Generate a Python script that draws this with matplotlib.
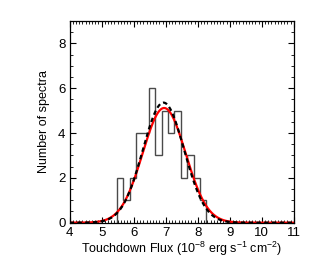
import numpy as np
import matplotlib.pyplot as plt
from matplotlib.ticker import MultipleLocator

# Histograma dos fluxos (largura de bin 0.2)
bordas = [5.47, 5.67, 5.87, 6.07, 6.27, 6.47, 6.67, 6.87, 7.07, 7.27, 7.47, 7.67, 7.87, 8.07, 8.27]
contagens = [2, 1, 2, 4, 4, 6, 3, 5, 4, 5, 2, 3, 2, 1]

# Parametros dos ajustes gaussianos
ajuste_vermelho = {'amp': 5.12, 'media': 6.95, 'sigma': 0.67}
ajuste_preto = {'amp': 5.36, 'media': 6.93, 'sigma': 0.645}

def gauss(x, amp, media, sigma):
    return amp * np.exp(-0.5 * ((x - media) / sigma) ** 2)

plt.rcParams['font.family'] = ['Liberation Sans', 'DejaVu Sans']
plt.rcParams['mathtext.fontset'] = 'custom'
plt.rcParams['mathtext.rm'] = 'Liberation Sans'
plt.rcParams['mathtext.it'] = 'Liberation Sans'
plt.rcParams['mathtext.default'] = 'rm'

fig = plt.figure(figsize=(3.15, 2.67), dpi=100)
ax = fig.add_axes([0.221, 0.166, 0.712, 0.755])

ax.stairs(contagens, bordas, baseline=0, color='#4a4a4a', linewidth=1.0)

x = np.linspace(4, 11, 500)
ax.plot(x, gauss(x, **ajuste_vermelho), color='red', linewidth=1.6)
ax.plot(x, gauss(x, **ajuste_preto), color='black', linewidth=1.6, linestyle=(0, (2, 1.5)))

ax.set_xlim(4, 11)
ax.set_ylim(0, 9)
ax.xaxis.set_major_locator(MultipleLocator(1))
ax.xaxis.set_minor_locator(MultipleLocator(0.1))
ax.yaxis.set_major_locator(MultipleLocator(2))
ax.yaxis.set_minor_locator(MultipleLocator(0.5))
ax.tick_params(which='both', direction='in', top=True, right=True, labelsize=9.5, pad=3)
ax.tick_params(which='major', length=4, width=0.8)
ax.tick_params(which='minor', length=2, width=0.6)
for s in ax.spines.values():
    s.set_linewidth(0.9)

ax.set_xlabel('Touchdown Flux (10$^{-8}$ erg s$^{-1}$ cm$^{-2}$)', fontsize=9, labelpad=1)
ax.set_ylabel('Number of spectra', fontsize=9, labelpad=6)

fig.savefig('out.png', dpi=100)
